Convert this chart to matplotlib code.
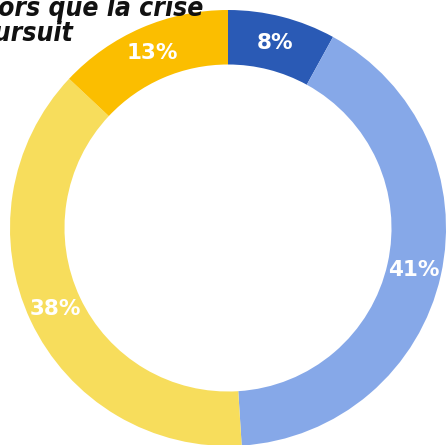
import matplotlib
matplotlib.use('Agg')
import matplotlib.pyplot as plt
import numpy as np

# slices, clockwise from 12 o'clock
labels = ['8%', '41%', '38%', '13%']
values = [8, 41, 38, 13]
colors = ['#2a5ab5', '#86a8e8', '#f7dd5c', '#fbbe00']

title_lines = ['alors que la crise', 'se poursuit']


def main():
    fig = plt.figure(figsize=(4.48, 4.45), dpi=100)
    ax = fig.add_axes([0, 0, 1, 1])

    wedges, _ = ax.pie(values, colors=colors, startangle=90, counterclock=False,
                       radius=1.0, wedgeprops=dict(width=0.25, linewidth=0))

    # percent labels in the middle of the ring
    for w, lab in zip(wedges, labels):
        ang = np.deg2rad((w.theta1 + w.theta2) / 2)
        r = 0.875
        ax.text(r * np.cos(ang), r * np.sin(ang), lab, ha='center', va='center',
                color='white', fontsize=15.5, fontweight='bold')

    # centre of the donut sits at pixel (228, 228), radius 218 px
    ax.set_xlim(-228 / 218, (448 - 228) / 218)
    ax.set_ylim(-(445 - 228) / 218, 228 / 218)
    ax.set_aspect('auto')
    ax.axis('off')

    # title, cropped by the top-left edge like the reference
    fig.text(203 / 448, 1 - 16 / 445, title_lines[0], ha='right', va='baseline',
             fontsize=19, fontweight='bold', style='italic', fontstretch='condensed',
             color='#111111')
    fig.text(73 / 448, 1 - 41 / 445, title_lines[1], ha='right', va='baseline',
             fontsize=19, fontweight='bold', style='italic', fontstretch='condensed',
             color='#111111')

    fig.savefig('out.png', dpi=100)


if __name__ == '__main__':
    main()
